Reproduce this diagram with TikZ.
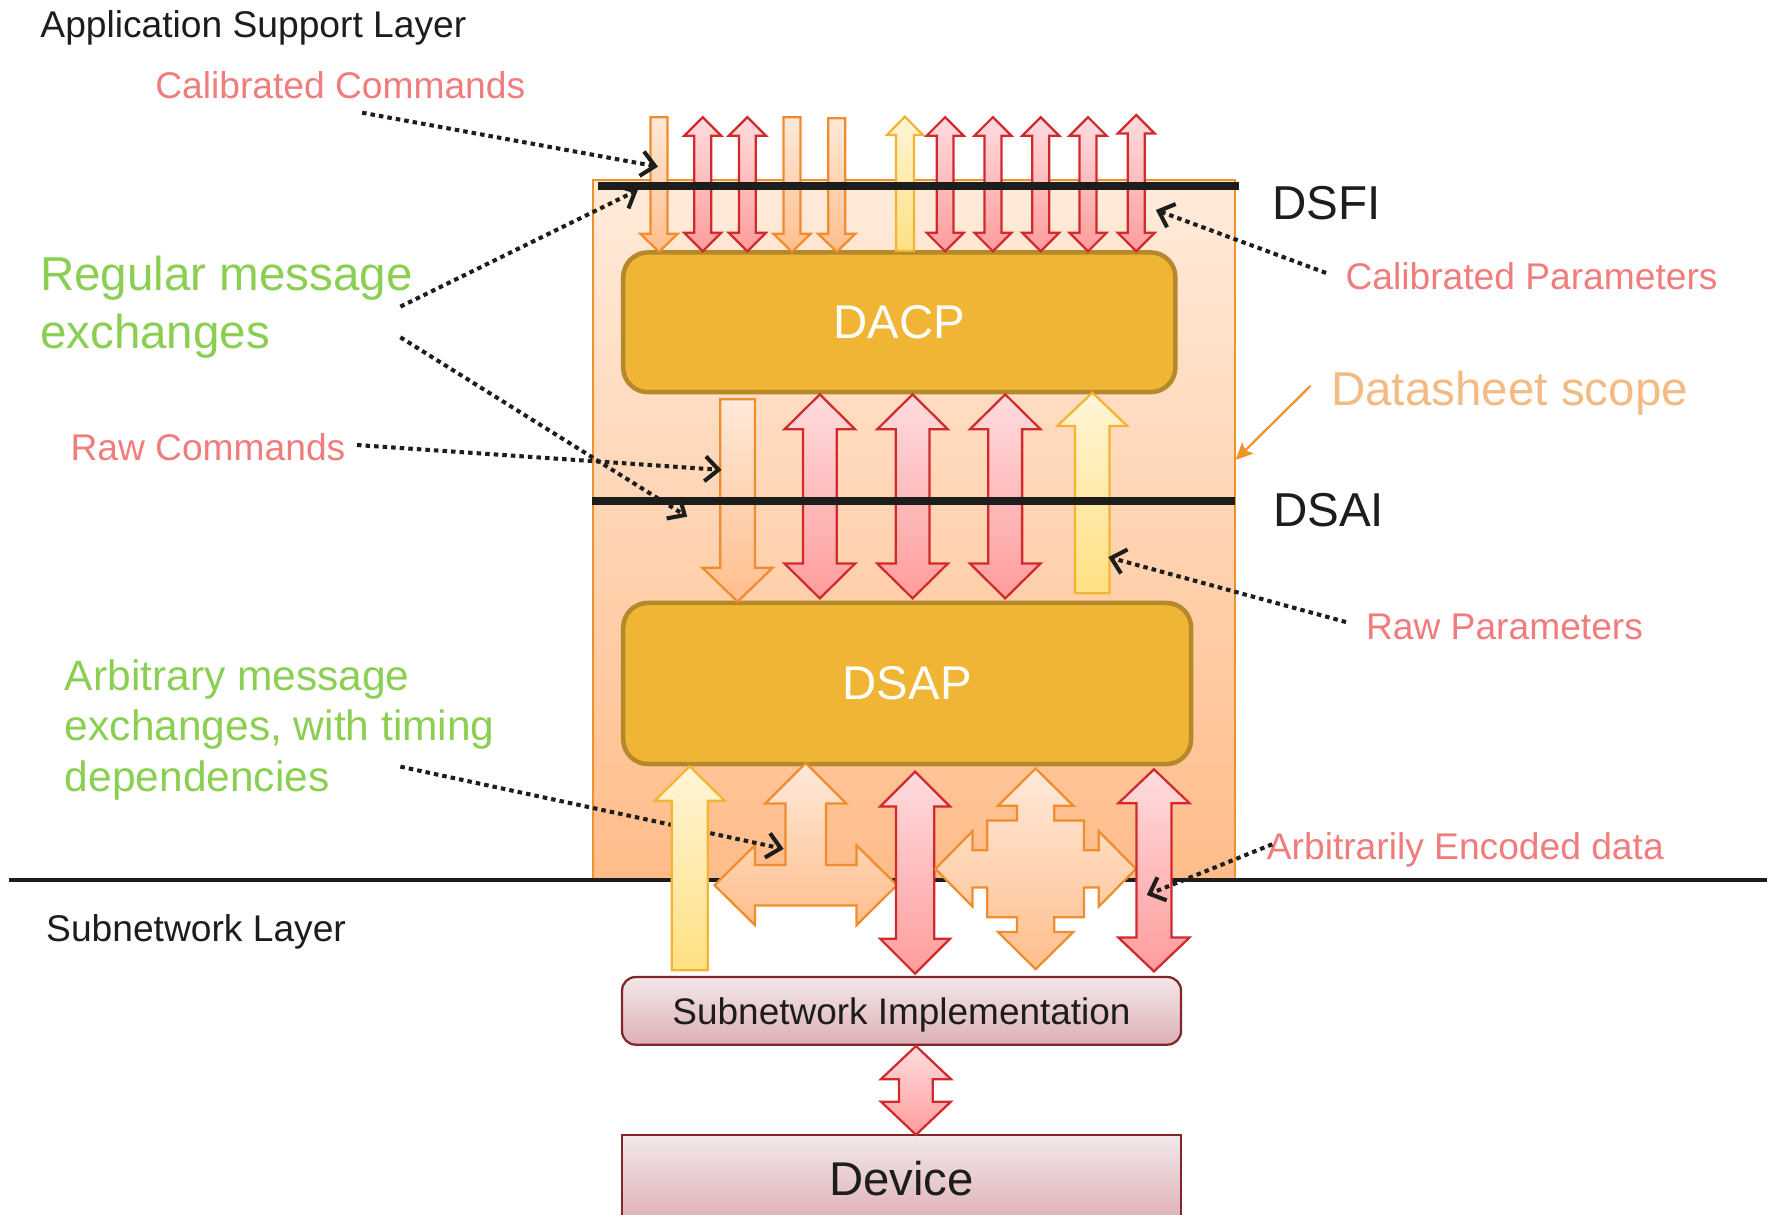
\documentclass[tikz,border=0pt]{standalone}
\usepackage{fontspec}
\setmainfont{Liberation Sans}
\usetikzlibrary{arrows.meta}

\definecolor{scopeTop}{RGB}{255,235,219}
\definecolor{scopeBot}{RGB}{255,188,137}
\definecolor{scopeLine}{RGB}{240,145,44}
\definecolor{coreFill}{RGB}{240,181,53}
\definecolor{coreLine}{RGB}{181,136,42}
\definecolor{orgTop}{RGB}{255,233,218}
\definecolor{orgBot}{RGB}{255,190,140}
\definecolor{orgLine}{RGB}{238,140,46}
\definecolor{redTop}{RGB}{255,220,222}
\definecolor{redBot}{RGB}{255,156,156}
\definecolor{redLine}{RGB}{208,42,45}
\definecolor{yelTop}{RGB}{255,245,215}
\definecolor{yelBot}{RGB}{255,224,130}
\definecolor{yelLine}{RGB}{243,180,52}
\definecolor{devTop}{RGB}{243,232,234}
\definecolor{devBot}{RGB}{221,176,181}
\definecolor{devLine}{RGB}{130,38,43}
\definecolor{ink}{RGB}{29,29,27}
\definecolor{salmon}{RGB}{240,124,124}
\definecolor{leaf}{RGB}{138,207,82}
\definecolor{peach}{RGB}{244,186,132}

% block arrows: style, centre x, tip y, base y, shaft half width, head half width, head length
\newcommand{\blkUp}[7]{%
  \path[#1] (#2,#3) -- ({#2+#6},{#3+#7}) -- ({#2+#5},{#3+#7}) -- ({#2+#5},#4)
    -- ({#2-#5},#4) -- ({#2-#5},{#3+#7}) -- ({#2-#6},{#3+#7}) -- cycle;}
% style, centre x, top y, tip y, shaft half width, head half width, head length
\newcommand{\blkDown}[7]{%
  \path[#1] (#2,#4) -- ({#2+#6},{#4-#7}) -- ({#2+#5},{#4-#7}) -- ({#2+#5},#3)
    -- ({#2-#5},#3) -- ({#2-#5},{#4-#7}) -- ({#2-#6},{#4-#7}) -- cycle;}
% style, centre x, top tip y, bottom tip y, shaft half width, head half width, head length
\newcommand{\blkBoth}[7]{%
  \path[#1] (#2,#3) -- ({#2+#6},{#3+#7}) -- ({#2+#5},{#3+#7}) -- ({#2+#5},{#4-#7})
    -- ({#2+#6},{#4-#7}) -- (#2,#4) -- ({#2-#6},{#4-#7}) -- ({#2-#5},{#4-#7})
    -- ({#2-#5},{#3+#7}) -- ({#2-#6},{#3+#7}) -- cycle;}

\tikzset{
  orangearrow/.style={draw=orgLine, line width=2pt, top color=orgTop, bottom color=orgBot, line join=miter},
  redarrow/.style={draw=redLine, line width=2pt, top color=redTop, bottom color=redBot, line join=miter},
  yellowarrow/.style={draw=yelLine, line width=2pt, top color=yelTop, bottom color=yelBot, line join=miter},
  core/.style={draw=coreLine, line width=4pt, fill=coreFill, rounded corners=22pt, text=white,
    font=\fontsize{42}{50}\selectfont, inner sep=0pt},
  hwbox/.style={draw=devLine, line width=2pt, top color=devTop, bottom color=devBot, text=ink, inner sep=0pt},
  lbl/.style={font=\fontsize{33}{40}\selectfont, inner sep=0pt, anchor=base west},
  midlbl/.style={font=\fontsize{37.7}{45}\selectfont, inner sep=0pt, anchor=base west},
  biglbl/.style={font=\fontsize{42.2}{50}\selectfont, inner sep=0pt, anchor=base west},
  iface/.style={ink, line width=7pt},
  pointer/.style={ink, line width=3.6pt, dash pattern=on 4pt off 3.6pt,
    -{Straight Barb[length=12pt,width=22pt]}},
  scopepointer/.style={scopeLine, line width=2pt, -{Stealth[length=15pt,width=14pt,inset=3pt]}},
}

\begin{document}
\begin{tikzpicture}[x=1pt, y=-1pt]
\useasboundingbox (0,0) rectangle (1568,1078);

% datasheet scope region
\path[draw=scopeLine, line width=2pt, top color=scopeTop, bottom color=scopeBot]
  (526,160) rectangle (1096,780);

% layer boundary
\draw[ink, line width=3.5pt] (8,780.5) -- (1568,780.5);

% functional blocks
\node[core, minimum width=490pt, minimum height=124pt] (dacp) at (798,286) {\raisebox{-2.5pt}{DACP}};
\node[core, minimum width=504pt, minimum height=143pt] (dsap) at (805,606.5) {\raisebox{-3pt}{DSAP}};
\node[hwbox, rounded corners=12pt, minimum width=496pt, minimum height=60pt, text depth=0pt,
  font=\fontsize{32.8}{40}\selectfont] (subnet) at (800,897) {Subnetwork Implementation};
\node[hwbox, minimum width=496pt, minimum height=78pt,
  font=\fontsize{42}{50}\selectfont] (device) at (800,1046) {Device};

% DSFI level arrows
\blkDown{orangearrow}{584.8}{104}{223.5}{7.5}{16.5}{16}
\blkBoth{redarrow}{623.6}{104}{223}{7.5}{16.5}{16.5}
\blkBoth{redarrow}{663.2}{104}{223}{7.5}{16.5}{16.5}
\blkDown{orangearrow}{702.8}{104}{223.5}{7.5}{16.5}{16}
\blkDown{orangearrow}{742.5}{105}{223.5}{7.5}{16.5}{16}
\blkUp{yellowarrow}{803}{103.5}{222.7}{8}{16}{16.3}
\blkBoth{redarrow}{838.7}{104}{223}{7.5}{16.5}{16.5}
\blkBoth{redarrow}{881.1}{104}{223}{7.5}{16.5}{16.5}
\blkBoth{redarrow}{923.5}{104}{223}{7.5}{16.5}{16.5}
\blkBoth{redarrow}{965.5}{104}{223}{7.5}{16.5}{16.5}
\blkBoth{redarrow}{1008.3}{102}{223}{7.5}{16.5}{16.5}

% DSAI level arrows
\blkDown{orangearrow}{654.5}{354.3}{533.9}{15.4}{31.2}{30.2}
\blkBoth{redarrow}{727.5}{350}{531}{15}{31.4}{31}
\blkBoth{redarrow}{809.8}{350}{531}{15}{31.4}{31}
\blkBoth{redarrow}{892}{350}{531}{15}{31.4}{31}
\blkUp{yellowarrow}{969.3}{348.4}{526.5}{15.3}{31}{29.6}

% subnetwork level arrows
\path[orangearrow] (715,677) -- (751,713) -- (733,713) -- (733,767.5) -- (760,767.5)
  -- (760,750) -- (796,785.5) -- (760,821) -- (760,803.5) -- (670,803.5) -- (670,821)
  -- (634,785.5) -- (670,750) -- (670,767.5) -- (697,767.5) -- (697,713) -- (679,713) -- cycle;
\blkBoth{redarrow}{812}{684.7}{864}{17}{31}{31}
\path[orangearrow] (919,682) -- (952.5,715) -- (935.5,715) -- (935.5,728) -- (962,728)
  -- (962,754.5) -- (975,754.5) -- (975,737.5) -- (1008,771) -- (975,804.5) -- (975,787.5)
  -- (962,787.5) -- (962,814) -- (935.5,814) -- (935.5,827) -- (952.5,827) -- (919,860)
  -- (885.5,827) -- (902.5,827) -- (902.5,814) -- (876,814) -- (876,787.5) -- (863,787.5)
  -- (863,804.5) -- (830,771) -- (863,737.5) -- (863,754.5) -- (876,754.5) -- (876,728)
  -- (902.5,728) -- (902.5,715) -- (885.5,715) -- cycle;
\blkBoth{redarrow}{1024}{682.7}{862}{15.5}{31.5}{30}

% device link
\blkBoth{redarrow}{812.8}{928.2}{1007}{15}{31}{29.4}

% interface lines
\draw[iface] (530.5,165) -- (1099.8,165);
\draw[iface] (525,444.4) -- (1096,444.4);

% labels
\node[lbl, text=ink] (asl) at (35.7,33.1) {Application Support Layer};
\node[lbl, text=salmon] (calcmd) at (137.6,87.3) {Calibrated Commands};
\node[biglbl, text=leaf] (regA) at (35.4,258.2) {Regular message};
\node[biglbl, text=leaf] (regB) at (35.4,309) {exchanges};
\node[lbl, text=salmon] (rawcmd) at (62.4,408.8) {Raw Commands};
\node[midlbl, text=leaf] (arbA) at (57.4,612.9) {Arbitrary message};
\node[midlbl, text=leaf] (arbB) at (57.4,657.2) {exchanges, with timing};
\node[midlbl, text=leaf] (arbC) at (57.4,702.5) {dependencies};
\node[lbl, text=ink] (snl) at (40.8,835.6) {Subnetwork Layer};
\node[biglbl, text=ink] (dsfi) at (1128.8,195.2) {DSFI};
\node[biglbl, text=ink] (dsai) at (1129.5,467.5) {DSAI};
\node[lbl, text=salmon] (calpar) at (1193.8,256.5) {Calibrated Parameters};
\node[biglbl, text=peach] (dscope) at (1181,359.4) {Datasheet scope};
\node[lbl, text=salmon] (rawpar) at (1212,567.3) {Raw Parameters};
\node[lbl, text=salmon] (arbenc) at (1124,763.1) {Arbitrarily Encoded data};

% pointer end points
\coordinate (calcmd-s) at (321.3,100);    \coordinate (calcmd-t) at (583.9,147.9);
\coordinate (regA-s) at (355.3,272.1);    \coordinate (regA-t) at (566,168.6);
\coordinate (regB-s) at (355.3,299.3);    \coordinate (regB-t) at (609.8,458.5);
\coordinate (rawcmd-s) at (316.8,394.9);  \coordinate (rawcmd-t) at (640.3,417);
\coordinate (rawpar-s) at (1194.4,552);   \coordinate (rawpar-t) at (983.5,494.4);
\coordinate (calpar-s) at (1176.7,242.2); \coordinate (calpar-t) at (1025.7,186.3);
\coordinate (arb-s) at (355.3,680.3);     \coordinate (arb-t) at (695.4,753.3);
\coordinate (arbenc-s) at (1129,749.2);   \coordinate (arbenc-t) at (1017.6,794.2);
\coordinate (dscope-s) at (1163,342.3);   \coordinate (dscope-t) at (1096.5,408);

\draw[pointer] (calcmd-s) -- (calcmd-t);
\draw[pointer] (regA-s) -- (regA-t);
\draw[pointer] (regB-s) -- (regB-t);
\draw[pointer] (rawcmd-s) -- (rawcmd-t);
\draw[pointer] (rawpar-s) -- (rawpar-t);
\draw[pointer] (calpar-s) -- (calpar-t);
\draw[pointer] (arb-s) -- (arb-t);
\draw[pointer] (arbenc-s) -- (arbenc-t);
\draw[scopepointer] (dscope-s) -- (dscope-t);

% raw parameter stream towards DSAP, in front of the pointer above
\blkUp{yellowarrow}{612}{680}{861}{16}{31}{30.5}
\end{tikzpicture}
\end{document}
